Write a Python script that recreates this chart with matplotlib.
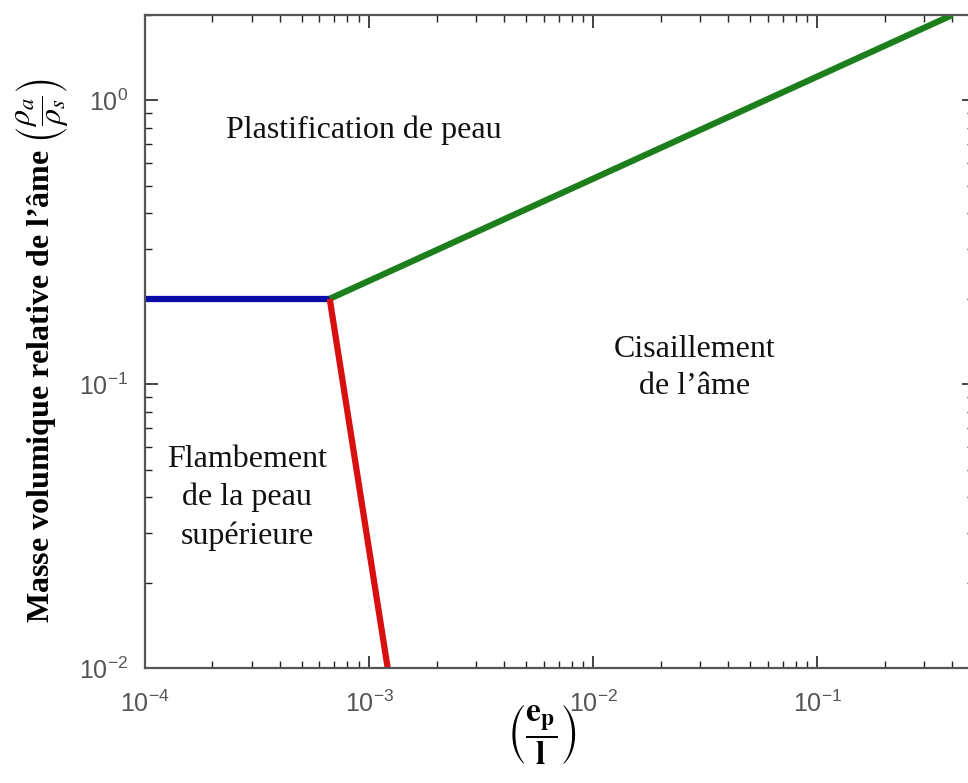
import matplotlib
matplotlib.use("Agg")
import matplotlib.pyplot as plt
from matplotlib.ticker import LogLocator, NullFormatter

plt.rcParams['mathtext.fontset'] = 'stix'
plt.rcParams['font.family'] = ['Liberation Sans', 'DejaVu Sans']

# Data
blue_x = [1e-4, 6.67e-4]
blue_y = [0.2, 0.2]
green_x = [6.67e-4, 0.40]
green_y = [0.2, 2.0]
red_x = [6.67e-4, 1.21e-3]
red_y = [0.2, 0.01]
xlim = (1e-4, 0.5)
ylim = (0.01, 2.0)

fig = plt.figure(figsize=(9.68, 7.83), dpi=100)
ax = fig.add_axes([145/968, 115/783, 829/968, 653/783])

ax.plot(blue_x, blue_y, color='#0a0aa8', lw=4.5, solid_capstyle='butt')
ax.plot(green_x, green_y, color='#1c7f1c', lw=4.5, solid_capstyle='butt')
ax.plot(red_x, red_y, color='#d81010', lw=4.5, solid_capstyle='butt')

ax.set_xscale('log')
ax.set_yscale('log')
ax.set_xlim(*xlim)
ax.set_ylim(*ylim)

for s in ax.spines.values():
    s.set_color('#555555')
    s.set_linewidth(1.6)

ax.xaxis.set_major_locator(LogLocator(base=10, numticks=10))
ax.yaxis.set_major_locator(LogLocator(base=10, numticks=10))
ax.xaxis.set_minor_locator(LogLocator(base=10, subs=range(2, 10), numticks=20))
ax.yaxis.set_minor_locator(LogLocator(base=10, subs=range(2, 10), numticks=20))
ax.xaxis.set_minor_formatter(NullFormatter())
ax.yaxis.set_minor_formatter(NullFormatter())
ax.tick_params(which='both', direction='in', top=True, right=True, colors='#222222')
ax.tick_params(which='major', length=9, width=1.2, labelsize=18, labelcolor='#555555')
ax.tick_params(which='minor', length=5, width=1.0)
ax.tick_params(axis='x', which='major', pad=16)
ax.tick_params(axis='y', which='major', pad=12)

serif = ['Liberation Serif', 'DejaVu Serif']
tkw = dict(transform=ax.transAxes, ha='center', va='center', fontsize=23,
           family=serif, linespacing=1.38, color='#111111')
ax.text((364-145)/829, (668-130)/653, 'Plastification de peau', **tkw)
ax.text((695-145)/829, (668-368)/653, 'Cisaillement\nde l\u2019âme', **tkw)
ax.text((247-145)/829, (668-498)/653, 'Flambement\nde la peau\nsupérieure', **tkw)

ax.set_ylabel('Masse volumique relative de l\u2019âme ' + r'$\left(\dfrac{\rho_a}{\rho_s}\right)$',
              family=serif, fontsize=23, fontweight='bold')
ax.yaxis.set_label_coords((70-145)/829, (668-350)/653)
ax.set_xlabel(r'$\left(\dfrac{\mathbf{e}_{\mathbf{p}}}{\mathbf{l}}\right)$',
              family=serif, fontsize=24)
ax.xaxis.set_label_coords((542-145)/829, (668-702)/653)

fig.savefig('out.png', dpi=100)
